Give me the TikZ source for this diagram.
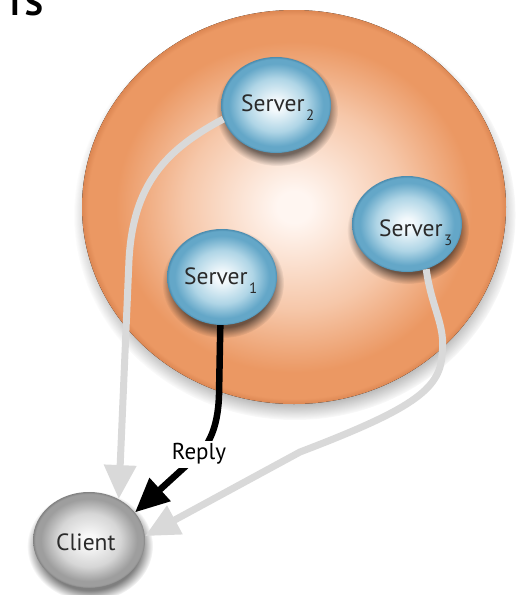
\documentclass[tikz,border=0pt]{standalone}
\usepackage{fontspec}
\setmainfont{PT Sans}
\usetikzlibrary{shapes.geometric,arrows.meta,fadings}

% palette
\definecolor{cloudA}{HTML}{FFF6F1}
\definecolor{cloudB}{HTML}{F6C7A9}
\definecolor{cloudC}{HTML}{EB9863}
\definecolor{cloudD}{HTML}{DC8753}
\definecolor{blueA}{HTML}{F3F9FC}
\definecolor{blueB}{HTML}{AFD5E6}
\definecolor{blueC}{HTML}{64A7C8}
\definecolor{blueD}{HTML}{4A8BAE}
\definecolor{greyA}{HTML}{F8F8F8}
\definecolor{greyB}{HTML}{D6D6D6}
\definecolor{greyC}{HTML}{9E9E9E}
\definecolor{greyD}{HTML}{828282}
\definecolor{lineGrey}{HTML}{D9D9D9}
\definecolor{textGrey}{HTML}{2A2A2A}

% spherical fills (25bp = rim of the shape)
\pgfdeclareradialshading{cloudorb}{\pgfpoint{0bp}{0bp}}{%
  color(0bp)=(cloudA); color(2bp)=(cloudA); color(13bp)=(cloudB);
  color(21bp)=(cloudC); color(24.3bp)=(cloudC); color(25bp)=(cloudD); color(50bp)=(cloudD)}
\pgfdeclareradialshading{blueorb}{\pgfpoint{0bp}{0bp}}{%
  color(0bp)=(blueA); color(3bp)=(blueA); color(14bp)=(blueB);
  color(21.5bp)=(blueC); color(24bp)=(blueC); color(25bp)=(blueD); color(50bp)=(blueD)}
\pgfdeclareradialshading{greyorb}{\pgfpoint{0bp}{0bp}}{%
  color(0bp)=(greyA); color(3bp)=(greyA); color(14bp)=(greyB);
  color(21.5bp)=(greyC); color(24bp)=(greyC); color(25bp)=(greyD); color(50bp)=(greyD)}

\newcommand{\idx}[1]{\hspace{1.5pt}\raisebox{-9pt}{\fontsize{15}{15}\selectfont #1}}

\tikzset{
  softshadow/.style={fill=black, fill opacity=#1, path fading=circle with fuzzy edge 20 percent},
  ball/.style={ellipse, minimum width=110pt, minimum height=96pt, inner sep=0pt,
               shade, shading=blueorb},
  clientball/.style={ellipse, minimum width=112pt, minimum height=96pt, inner sep=0pt,
               shade, shading=greyorb},
  lbl/.style={anchor=base west, inner sep=0pt, text=textGrey, font=\fontsize{23.5}{24}\selectfont},
  request/.style={draw=lineGrey, line width=7pt, -{Triangle[length=34pt,width=31pt]}},
  answer/.style={draw=black, line width=6.5pt, -{Triangle[length=34pt,width=30pt]}},
  replytag/.style={fill=white, inner sep=3pt, text=black, font=\fontsize{23}{24}\selectfont},
}

\begin{document}
\begin{tikzpicture}[x=1pt,y=-1pt]
\useasboundingbox (0,0) rectangle (516,595);
\clip (0,0) rectangle (516,595);

% heading fragment
\node[anchor=base west, inner sep=0pt, font=\fontsize{34}{34}\selectfont\bfseries] (heading) at (10,15) {I\hspace{5pt}S};

% the group of servers
\fill[softshadow=0.65] (295,215) ellipse [x radius=221, y radius=205];
\fill[shade, shading=cloudorb] (294,207) ellipse [x radius=212, y radius=197];

% ball shadows
\fill[softshadow=0.55] (277,111) ellipse [x radius=61, y radius=55];
\fill[softshadow=0.55] (408,230) ellipse [x radius=61, y radius=54];
\fill[softshadow=0.55] (223,283) ellipse [x radius=61, y radius=55];
\fill[softshadow=0.5]  (90,546)  ellipse [x radius=63, y radius=55];

% balls
\node[ball] (s2) at (276,105) {};
\node[ball] (s3) at (407,224) {};
\node[ball] (s1) at (222,277) {};
\node[clientball] (client) at (89,540) {};

\node[lbl] (s2text) at (241,111) {Server\idx{2}};
\node[lbl] (s3text) at (379,236) {Server\idx{3}};
\node[lbl] (s1text) at (184,284) {Server\idx{1}};
\node[lbl] (clienttext) at (56,550) {Client};

% requests forwarded to the client
\draw[request] (s2.195) .. controls (165,150) and (133,185) .. (129,260) -- (client.54);
\draw[request] (s3.293) .. controls (432,310) and (446,325) .. (442,355)
   .. controls (440,390) and (410,410) .. (300,452) -- (client.4);

% the reply
\draw[answer] (s1.268) -- (219,395) .. controls (218,430) and (207,446) .. (199,454)
   node[replytag] (reply) {Reply} -- (client.31);
\end{tikzpicture}
\end{document}
